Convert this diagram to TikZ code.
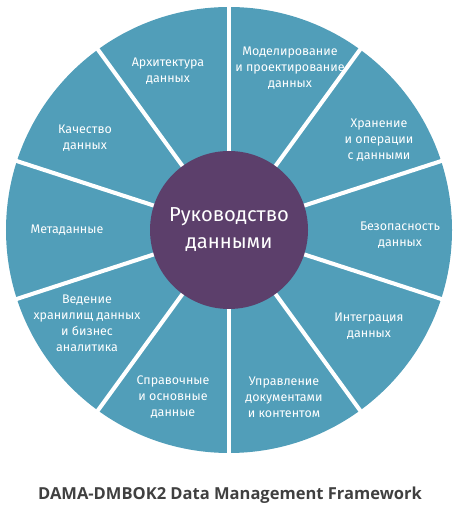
\documentclass[tikz,border=0pt]{standalone}
\usepackage{fontspec}
\setmainfont{Fira Sans}
\newfontfamily\captionfont{Open Sans}
\definecolor{wheelfill}{RGB}{81, 158, 185}
\definecolor{hubfill}{RGB}{92, 63, 107}
\definecolor{captiongray}{RGB}{64, 64, 64}
\tikzset{
    segtext/.style={text=white, align=center,
        font=\fontsize{7.1}{9.1}\selectfont},
    hub/.style={circle, fill=hubfill, minimum size=3.16cm, inner sep=0pt,
        text=white, align=center, font=\fontsize{11.5}{15.3}\selectfont},
    spoke/.style={white, line width=2.3pt},
}

\begin{document}
\begin{tikzpicture}
            \useasboundingbox (0, 0) rectangle (9.14, 10.14);
            \coordinate (hubcenter) at (4.58, 5.54);
            \fill[wheelfill] (hubcenter) circle (4.46);
            \foreach \ang in {90, 54, ..., -234} {
                \draw[spoke] (hubcenter) -- ++(\ang:4.6);
            }
            \node[hub] (governance) at (hubcenter) {Руководство\\данными};
            \node[segtext] (architecture) at (3.36, 8.72)
                {Архитектура\\данных};
            \node[segtext] (modeling) at (5.80, 8.78)
                {Моделирование\\и проектирование\\данных};
            \node[segtext] (storage) at (7.58, 7.34)
                {Хранение\\и операции\\с данными};
            \node[segtext] (security) at (8.00, 5.44)
                {Безопасность\\данных};
            \node[segtext] (integration) at (7.38, 3.62)
                {Интеграция\\данных};
            \node[segtext] (documents) at (5.68, 2.20)
                {Управление\\документами\\и контентом};
            \node[segtext] (masterdata) at (3.46, 2.20)
                {Справочные\\и основные\\данные};
            \node[segtext] (warehouse) at (1.74, 3.68)
                {Ведение\\хранилищ данных\\и бизнес\\аналитика};
            \node[segtext] (metadata) at (1.34, 5.54) {Метаданные};
            \node[segtext] (quality) at (1.70, 7.38) {Качество\\данных};
            \node[text=captiongray,
                font=\captionfont\fontsize{9.4}{11}\selectfont\bfseries]
                (caption) at (4.60, 0.24)
                {DAMA-DMBOK2 Data Management Framework};
        \end{tikzpicture}
\end{document}
